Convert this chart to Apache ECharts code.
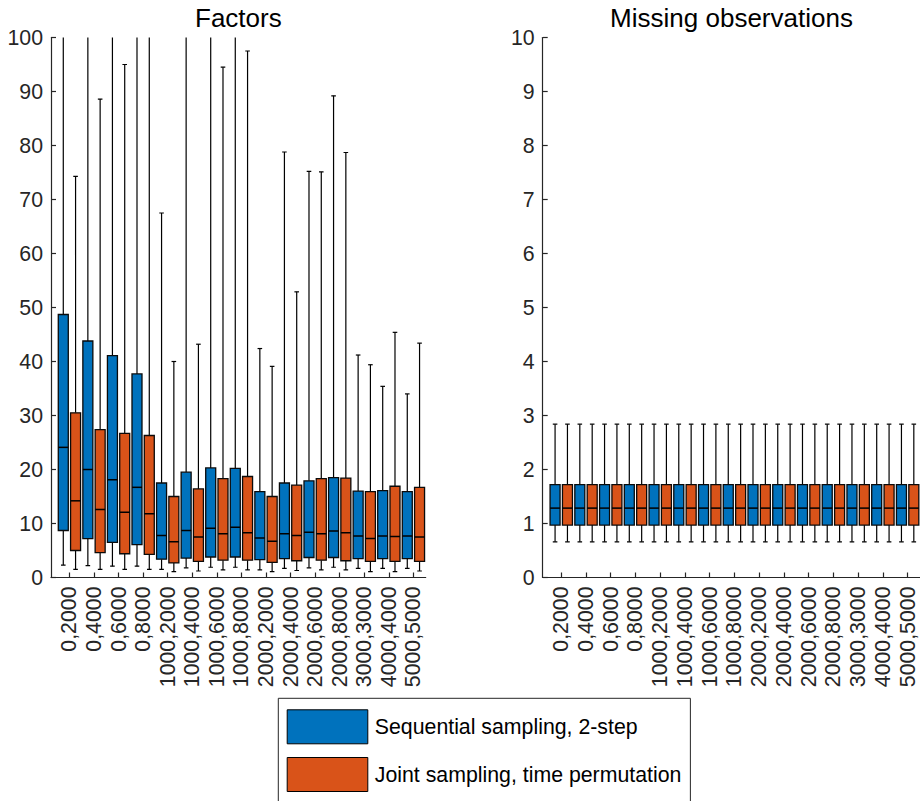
<!DOCTYPE html>
<html>
<head>
<meta charset="utf-8">
<script src="https://cdn.jsdelivr.net/npm/echarts@6/dist/echarts.min.js"></script>
<style>
html,body{margin:0;padding:0;background:#fff;}
#chart{width:920px;height:801px;}
</style>
</head>
<body>
<div id="chart"></div>
<script>
// ---- Data ----
const groupLabels = ['0,2000','0,4000','0,6000','0,8000','1000,2000','1000,4000','1000,6000','1000,8000',
  '2000,2000','2000,4000','2000,6000','2000,8000','3000,3000','4000,4000','5000,5000'];
const seriesNames = ['Sequential sampling, 2-step', 'Joint sampling, time permutation'];

// Factors – Sequential sampling (whiskers above 100 run off the top of the axes)
const seqLow  = [2.3, 2.2, 2.1, 2.1, 1.5, 1.8, 1.9, 1.9, 1.4, 1.7, 1.8, 1.9, 1.7, 1.7, 1.7];
const seqQ1   = [8.7, 7.2, 6.5, 6.1, 3.4, 3.6, 3.8, 3.8, 3.3, 3.5, 3.7, 3.7, 3.5, 3.5, 3.5];
const seqMed  = [24.1, 20.0, 18.1, 16.7, 7.8, 8.7, 9.1, 9.3, 7.3, 8.1, 8.4, 8.6, 7.7, 7.7, 7.7];
const seqQ3   = [48.7, 43.8, 41.1, 37.7, 17.5, 19.5, 20.3, 20.2, 15.9, 17.5, 17.9, 18.5, 16.0, 16.1, 15.9];
const seqHigh = [130, 130, 130, 130, 67.5, 130, 130, 130, 42.4, 78.8, 75.2, 89.2, 41.2, 35.4, 34.0];

// Factors – Joint sampling
const jntLow  = [1.5, 1.5, 1.5, 1.5, 1.1, 1.2, 1.4, 1.4, 1.1, 1.3, 1.4, 1.4, 1.1, 1.1, 1.2];
const jntQ1   = [5.0, 4.6, 4.4, 4.3, 2.7, 3.0, 3.2, 3.2, 2.8, 3.1, 3.2, 3.1, 3.0, 3.0, 3.0];
const jntMed  = [14.2, 12.6, 12.1, 11.8, 6.6, 7.5, 8.1, 8.3, 6.7, 7.8, 8.1, 8.3, 7.2, 7.6, 7.5];
const jntQ3   = [30.5, 27.4, 26.7, 26.3, 15.0, 16.4, 18.3, 18.7, 15.0, 17.1, 18.3, 18.4, 15.9, 16.9, 16.7];
const jntHigh = [74.3, 88.6, 95.0, 130, 40.0, 43.2, 94.5, 97.5, 39.1, 52.9, 75.1, 78.7, 39.4, 45.4, 43.4];

// Missing observations (same for every group and both methods)
const missLow  = [0.66,0.66,0.66,0.66,0.66,0.66,0.66,0.66,0.66,0.66,0.66,0.66,0.66,0.66,0.66];
const missQ1   = [0.97,0.97,0.97,0.97,0.97,0.97,0.97,0.97,0.97,0.97,0.97,0.97,0.97,0.97,0.97];
const missMed  = [1.285,1.285,1.285,1.285,1.285,1.285,1.285,1.285,1.285,1.285,1.285,1.285,1.285,1.285,1.285];
const missQ3   = [1.72,1.72,1.72,1.72,1.72,1.72,1.72,1.72,1.72,1.72,1.72,1.72,1.72,1.72,1.72];
const missHigh = [2.84,2.84,2.84,2.84,2.84,2.84,2.84,2.84,2.84,2.84,2.84,2.84,2.84,2.84,2.84];

const leftTicks = { min: 0, max: 100, interval: 10 };
const rightTicks = { min: 0, max: 10, interval: 1 };

// ---- Styling ----
const BLUE = '#0072BD', ORANGE = '#D95319';
const AX = '#262626';
const FONT = 'Liberation Sans, Arial, Helvetica, sans-serif';

function rows(lo, q1, med, q3, hi) {
  return lo.map((v, i) => [i, v, q1[i], med[i], q3[i], hi[i]]);
}

function makeRender(side, color) {
  return function (params, api) {
    const i = api.value(0);
    const bw = api.size([1, 0])[0];
    const c = api.coord([i, api.value(3)]);
    const x = c[0] + side * bw / 4;
    const yLo = api.coord([i, api.value(1)])[1];
    const yQ1 = api.coord([i, api.value(2)])[1];
    const yMed = c[1];
    const yQ3 = api.coord([i, api.value(4)])[1];
    const yHi = api.coord([i, api.value(5)])[1];
    const half = 5, cap = 2.3;
    const ls = { stroke: '#000', lineWidth: 1.2 };
    return {
      type: 'group',
      children: [
        { type: 'line', shape: { x1: x, y1: yHi, x2: x, y2: yQ3 }, style: ls },
        { type: 'line', shape: { x1: x - cap, y1: yHi, x2: x + cap, y2: yHi }, style: ls },
        { type: 'line', shape: { x1: x, y1: yQ1, x2: x, y2: yLo }, style: ls },
        { type: 'line', shape: { x1: x - cap, y1: yLo, x2: x + cap, y2: yLo }, style: ls },
        { type: 'rect', shape: { x: x - half, y: yQ3, width: 2 * half, height: yQ1 - yQ3 },
          style: { fill: color, stroke: '#0a0a0a', lineWidth: 1.3 } },
        { type: 'line', shape: { x1: x - half, y1: yMed, x2: x + half, y2: yMed }, style: { stroke: '#000', lineWidth: 1.5 } }
      ]
    };
  };
}

function boxSeries(name, side, color, gridIdx, data) {
  return {
    type: 'custom', name: name,
    xAxisIndex: gridIdx, yAxisIndex: gridIdx,
    renderItem: makeRender(side, color),
    itemStyle: { color: color, borderColor: '#000', borderWidth: 1 },
    encode: { x: 0, y: [1, 2, 3, 4, 5] },
    clip: true, silent: true,
    data: data
  };
}

// Geometry (pixels)
const TOP = 37.5, H = 540;
const L0 = 51, W0 = 374.7;      // left axes frame
const L2 = 542.7, W2 = 377.6;   // right axes frame
const half0 = W0 / 30.5 / 2, half2 = W2 / 30.5 / 2;

function frameY(t) {
  return {
    type: 'value', min: t.min, max: t.max, interval: t.interval,
    axisLine: { show: true, lineStyle: { color: AX, width: 1.2 } },
    axisTick: { show: true, inside: true, length: 5, lineStyle: { color: AX, width: 1.2 } },
    axisLabel: { show: true, fontSize: 21.3, fontFamily: FONT, color: AX, margin: 8 },
    splitLine: { show: false }
  };
}
function frameX() {
  return {
    type: 'value', min: 0, max: 1,
    axisLine: { show: true, onZero: false, lineStyle: { color: AX, width: 1.2 } },
    axisTick: { show: false }, axisLabel: { show: false }, splitLine: { show: false }
  };
}
function catX(gridIndex) {
  return {
    type: 'category', gridIndex: gridIndex, data: groupLabels, boundaryGap: true,
    axisLine: { show: false },
    axisTick: { show: true, inside: true, length: 5, alignWithLabel: true, lineStyle: { color: AX, width: 1.2 } },
    axisLabel: { show: true, interval: 0, rotate: 90, fontSize: 21.3, fontFamily: FONT, color: AX, margin: 9 },
    splitLine: { show: false }
  };
}
function hiddenY(gridIndex, t) {
  return { type: 'value', gridIndex: gridIndex, min: t.min, max: t.max, show: false };
}

const chart = echarts.init(document.getElementById('chart'), null, { renderer: 'svg' });
chart.setOption({
  animation: false,
  backgroundColor: '#fff',
  grid: [
    { left: L0 + half0, top: TOP, width: W0 - half0, height: H },   // 0 left boxes
    { left: L2 + half2, top: TOP, width: W2 - half2, height: H },   // 1 right boxes
    { left: L0, top: TOP, width: W0, height: H },                   // 2 left frame
    { left: L2, top: TOP, width: W2, height: H }                    // 3 right frame
  ],
  xAxis: [
    catX(0), catX(1),
    Object.assign(frameX(), { gridIndex: 2 }),
    Object.assign(frameX(), { gridIndex: 3 })
  ],
  yAxis: [
    hiddenY(0, leftTicks), hiddenY(1, rightTicks),
    Object.assign(frameY(leftTicks), { gridIndex: 2 }),
    Object.assign(frameY(rightTicks), { gridIndex: 3 })
  ],
  legend: {
    data: seriesNames, orient: 'vertical', left: 278.3, top: 698.3,
    width: 420, height: 200,
    icon: 'rect', itemWidth: 80.6, itemHeight: 34, itemGap: 12.7,
    padding: [11, 9, 11, 8.4],
    borderColor: AX, borderWidth: 1, backgroundColor: '#fff',
    selectedMode: false,
    itemStyle: { borderColor: '#000', borderWidth: 1 },
    textStyle: { fontSize: 21.3, fontFamily: FONT, color: '#000', padding: [0, 0, 0, 2] }
  },
  graphic: [
    { type: 'text', silent: true, style: { text: 'Factors', x: L0 + W0 / 2, y: 18, align: 'center', verticalAlign: 'middle',
      textAlign: 'center', textVerticalAlign: 'middle', fontSize: 26, fontFamily: FONT, fill: '#000' } },
    { type: 'text', silent: true, style: { text: 'Missing observations', x: L2 + W2 / 2, y: 18, align: 'center', verticalAlign: 'middle',
      textAlign: 'center', textVerticalAlign: 'middle', fontSize: 26, fontFamily: FONT, fill: '#000' } }
  ],
  series: [
    boxSeries(seriesNames[0], -1, BLUE, 0, rows(seqLow, seqQ1, seqMed, seqQ3, seqHigh)),
    boxSeries(seriesNames[1], 1, ORANGE, 0, rows(jntLow, jntQ1, jntMed, jntQ3, jntHigh)),
    boxSeries(seriesNames[0], -1, BLUE, 1, rows(missLow, missQ1, missMed, missQ3, missHigh)),
    boxSeries(seriesNames[1], 1, ORANGE, 1, rows(missLow, missQ1, missMed, missQ3, missHigh))
  ]
});
</script>
</body>
</html>
